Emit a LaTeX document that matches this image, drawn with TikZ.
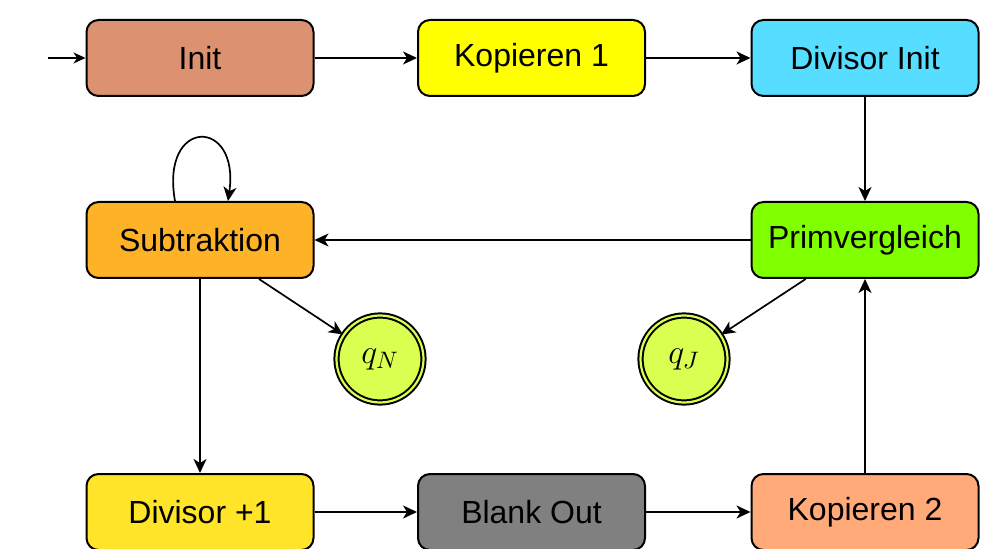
\RequirePackage{fix-cm}
\documentclass[tikz,border=0pt]{standalone}
\usepackage{fontspec}
\setmainfont{Liberation Sans}
\usetikzlibrary{arrows.meta}

\definecolor{cInit}{RGB}{220,146,112}
\definecolor{cKop}{RGB}{255,255,0}
\definecolor{cDivInit}{RGB}{87,221,255}
\definecolor{cSub}{RGB}{254,178,40}
\definecolor{cPrim}{RGB}{128,255,0}
\definecolor{cAcc}{RGB}{218,255,80}
\definecolor{cDivPlus}{RGB}{255,228,42}
\definecolor{cBlank}{RGB}{128,128,128}
\definecolor{cKopB}{RGB}{255,170,120}

\tikzset{
  statebox/.style={draw=black, line width=1pt, rounded corners=6pt,
    minimum width=113.5pt, minimum height=38pt, inner sep=0pt,
    font=\fontsize{16}{19}\selectfont},
  accept/.style={circle, draw=black, line width=1pt, double=cAcc,
    double distance=1.1pt, fill=cAcc, minimum size=43.5pt, inner sep=0pt,
    font=\fontsize{17}{20}\selectfont},
  edge/.style={line width=0.85pt, -{Stealth[length=7pt,width=6.5pt,inset=2pt]}},
  startedge/.style={line width=0.6pt, -{Stealth[length=6pt,width=5.5pt,inset=1.8pt]}}
}

\begin{document}
\begin{tikzpicture}[x=0.5pt, y=-0.5pt]
  \useasboundingbox (0,0) rectangle (999,549);

  % top row
  \node[statebox, fill=cInit]    (init)   at (200,58) {Init};
  \node[statebox, fill=cKop]     (kop1)   at (531.5,58) {Kopieren 1};
  \node[statebox, fill=cDivInit] (divini) at (865,58)   {Divisor Init};

  % middle row
  \node[statebox, fill=cSub]  (sub)  at (200,240) {Subtraktion};
  \node[statebox, fill=cPrim] (prim) at (865,240)   {Primvergleich};

  % accepting states
  \node[accept] (qN) at (380,359) {$q_N$};
  \node[accept] (qJ) at (684,359) {$q_J$};

  % bottom row
  \node[statebox, fill=cDivPlus] (divplus) at (200,512) {Divisor +1};
  \node[statebox, fill=cBlank]   (blank)   at (531.5,512) {Blank Out};
  \node[statebox, fill=cKopB]    (kop2)    at (865,512)   {Kopieren 2};

  % start marker
  \coordinate (start) at (48,58);
  \draw[startedge] (start) -- (init);

  % transitions
  \draw[edge] (init) -- (kop1);
  \draw[edge] (kop1) -- (divini);
  \draw[edge] (divini) -- (prim);
  \draw[edge] (prim) -- (sub);
  \draw[edge] (sub) -- (qN);
  \draw[edge] (prim) -- (qJ);
  \draw[edge] (sub) -- (divplus);
  \draw[edge] (divplus) -- (blank);
  \draw[edge] (blank) -- (kop2);
  \draw[edge] (kop2) -- (prim);

  % self loop on Subtraktion
  \draw[edge] ([xshift=-12.5pt]sub.north) .. controls +(-15,-84) and +(12,-84) .. ([xshift=14pt]sub.north);
\end{tikzpicture}
\end{document}
